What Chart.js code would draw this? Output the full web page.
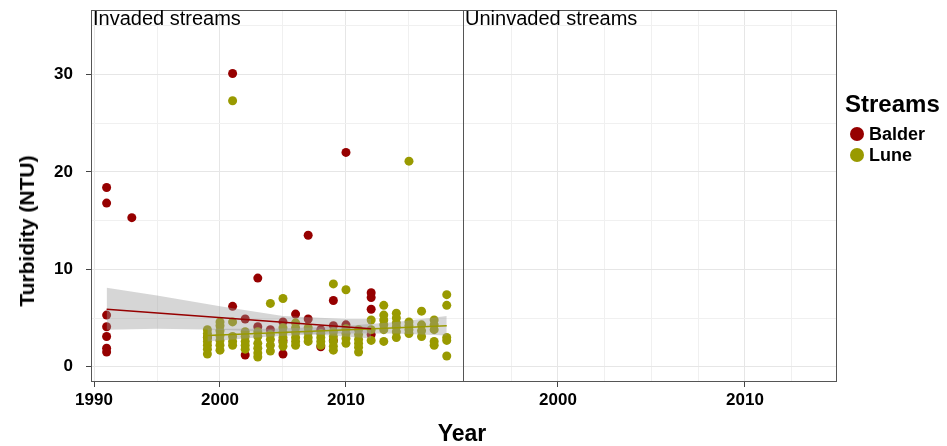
<!DOCTYPE html>
<html>
<head>
<meta charset="utf-8">
<script src="https://cdn.jsdelivr.net/npm/chart.js@4"></script>
<style>
  body { margin: 0; background: #fff; }
  #wrap { position: relative; width: 947px; height: 446px; font-family: "Liberation Sans", Arial, sans-serif; }
  #wrap canvas { position: absolute; left: 0; top: 0; }
  .lbl { position: absolute; white-space: nowrap; color: #000; }
  .strip { font-size: 20px; line-height: 20px; top: 8px; }
  .dot { display: inline-block; width: 14px; height: 14px; border-radius: 50%; margin-right: 5px; }
  .item { position: absolute; left: 850px; height: 16px; display: flex; align-items: center; font-weight: bold; font-size: 18px; line-height: 16px; }
</style>
</head>
<body>
<div id="wrap">
  <canvas id="leftChart" width="947" height="446"></canvas>
  <canvas id="rightChart" width="947" height="446"></canvas>
  <div class="lbl strip" style="left:93px">Invaded streams</div>
  <div class="lbl strip" style="left:465px">Uninvaded streams</div>
  <div class="lbl" style="left:27px; top:231px; transform:translate(-50%,-50%) rotate(-90deg); font-weight:bold; font-size:21px;">Turbidity (NTU)</div>
  <div class="lbl" style="left:462px; top:433px; transform:translate(-50%,-50%); font-weight:bold; font-size:23px;">Year</div>
  <div class="lbl" style="left:845px; top:92px; font-weight:bold; font-size:24px; line-height:24px;">Streams</div>
  <div class="item" style="top:126px"><span class="dot" style="background:#960000"></span>Balder</div>
  <div class="item" style="top:147px"><span class="dot" style="background:#999a00"></span>Lune</div>
</div>
<script>
// turbidity readings per year (Invaded streams panel)
const balderYears = [1991, 1993, 1999, 2001, 2002, 2003, 2004, 2005, 2006, 2007, 2008, 2009, 2010, 2012];
const balderTurbidity = [
    [18.4, 16.8, 5.3, 4.1, 3.1, 1.9, 1.5], [15.3], [3.0], [30.1, 6.2], [4.9, 1.2], [9.1, 4.1], [3.8],
    [4.6, 2.7, 1.3], [5.4], [13.5, 4.9], [3.8, 2.05], [6.8, 4.2, 2.7], [22.0, 4.3], [7.6, 7.1, 5.9, 3.3]
];
const luneYears = [1999, 2000, 2001, 2002, 2003, 2004, 2005, 2006, 2007, 2008,
                   2009, 2010, 2011, 2012, 2013, 2014, 2015, 2016, 2017, 2018];
const luneTurbidity = [
    [3.8, 3.4, 3.0, 2.6, 2.2, 1.8, 1.3],
    [4.6, 4.2, 3.7, 3.2, 2.7, 2.2, 1.7],
    [27.3, 4.6, 3.1, 2.6, 2.2],
    [3.6, 3.1, 2.6, 2.2, 1.8],
    [3.6, 3.1, 2.4, 1.9, 1.4, 1.0],
    [6.5, 3.3, 2.8, 2.2, 1.6],
    [7.0, 4.0, 3.5, 3.0, 2.5, 2.1],
    [4.5, 4.0, 3.5, 3.0, 2.6, 2.2],
    [4.0, 3.5, 3.0, 2.6],
    [3.4, 3.0, 2.6, 2.2],
    [8.5, 3.6, 3.1, 2.6, 2.1, 1.7],
    [7.9, 3.9, 3.4, 2.9, 2.4],
    [3.8, 3.3, 2.8, 2.4, 2.0, 1.5],
    [4.8, 3.8, 2.7],
    [6.3, 5.3, 4.8, 4.3, 3.8, 2.6],
    [5.5, 5.0, 4.5, 4.1, 3.6, 3.0],
    [21.1, 4.6, 4.2, 3.8, 3.4],
    [5.7, 4.3, 3.7, 3.1],
    [4.8, 4.3, 3.8, 2.6, 2.2],
    [7.4, 6.3, 3.0, 2.7, 1.1]
];

// linear fits and their confidence bands
const balderFitYears = [1991, 2012];
const balderFit = [5.9, 3.9];
const balderBandYears = [1991, 1995, 2000, 2005, 2010, 2012];
const balderBandLow = [3.8, 3.9, 3.8, 3.5, 3.1, 2.9];
const balderBandHigh = [8.1, 7.3, 6.2, 5.2, 4.9, 4.9];
const luneFitYears = [1999, 2018];
const luneFit = [3.2, 4.2];
const luneBandYears = [1999, 2004, 2009, 2014, 2018];
const luneBandLow = [2.6, 3.1, 3.4, 3.4, 3.2];
const luneBandHigh = [3.9, 3.9, 4.1, 4.6, 5.2];

// axes
const yGrid = [0, 5, 10, 15, 20, 25, 30, 35];
const yLabels = [0, 10, 20, 30];
const leftXGrid = [1990, 1995, 2000, 2005, 2010, 2015];
const leftXLabels = [1990, 2000, 2010];
const rightXGrid = [1997.5, 2000, 2002.5, 2005, 2007.5, 2010, 2012.5];
const rightXLabels = [2000, 2010];

const FONT = '"Liberation Sans", Arial, sans-serif';
const BALDER = '#960000';
const LUNE = '#999a00';
const BAND = 'rgba(153,153,153,0.4)';

function toPoints(years, values) {
    const pts = [];
    years.forEach((yr, i) => {
        const vals = Array.isArray(values[i]) ? values[i] : [values[i]];
        vals.forEach(v => pts.push({ x: yr, y: v }));
    });
    return pts;
}

// grey box round each panel (shared edge falls on the same pixel)
const panelFrame = {
    id: 'panelFrame',
    afterDraw(chart) {
        const a = chart.chartArea;
        const ctx = chart.ctx;
        ctx.save();
        ctx.strokeStyle = '#555';
        ctx.lineWidth = 1;
        ctx.strokeRect(Math.round(a.left) + 0.5, Math.round(a.top) + 0.5,
            Math.round(a.right - a.left), Math.round(a.bottom - a.top) - 1);
        ctx.restore();
    }
};

function xScale(min, max, grid, labels) {
    return {
        type: 'linear', min: min, max: max,
        afterBuildTicks: s => { s.ticks = grid.map(v => ({ value: v })); },
        afterFit: s => { s.height = 64; s.paddingLeft = 0; s.paddingRight = 0; },
        border: { display: false },
        grid: {
            color: c => labels.includes(c.tick.value) ? '#e6e6e6' : '#f0f0f0',
            tickLength: 5,
            tickColor: c => labels.includes(c.tick.value) ? '#444' : 'rgba(0,0,0,0)'
        },
        ticks: {
            autoSkip: false, maxRotation: 0, padding: 3, color: '#000',
            font: { family: FONT, size: 17, weight: 'bold' },
            callback: v => labels.includes(v) ? String(v) : ''
        }
    };
}

function yScale(showLabels) {
    return {
        type: 'linear', min: -1.57, max: 36.62,
        afterBuildTicks: s => { s.ticks = yGrid.map(v => ({ value: v })); },
        afterFit: s => { s.width = showLabels ? 91 : 0; s.paddingTop = 0; s.paddingBottom = 0; },
        border: { display: false },
        grid: {
            color: c => yLabels.includes(c.tick.value) ? '#e6e6e6' : '#f0f0f0',
            drawTicks: showLabels,
            tickLength: 5,
            tickColor: c => yLabels.includes(c.tick.value) ? '#444' : 'rgba(0,0,0,0)'
        },
        ticks: {
            display: showLabels, autoSkip: false, padding: 13, color: '#000',
            font: { family: FONT, size: 17, weight: 'bold' },
            callback: v => yLabels.includes(v) ? String(v) : ''
        }
    };
}

const common = {
    responsive: false,
    animation: false,
    events: [],
    plugins: { legend: { display: false }, tooltip: { enabled: false } }
};

new Chart(document.getElementById('leftChart'), {
    type: 'scatter',
    data: {
        datasets: [
            { data: toPoints(balderFitYears, balderFit), showLine: true, borderColor: BALDER, borderWidth: 1.5, pointRadius: 0, order: 1 },
            { data: toPoints(luneFitYears, luneFit), showLine: true, borderColor: LUNE, borderWidth: 1.5, pointRadius: 0, order: 1 },
            { data: toPoints(balderBandYears, balderBandLow), showLine: true, borderWidth: 0, pointRadius: 0, order: 2 },
            { data: toPoints(balderBandYears, balderBandHigh), showLine: true, borderWidth: 0, pointRadius: 0, fill: 2, backgroundColor: BAND, order: 2 },
            { data: toPoints(luneBandYears, luneBandLow), showLine: true, borderWidth: 0, pointRadius: 0, order: 2 },
            { data: toPoints(luneBandYears, luneBandHigh), showLine: true, borderWidth: 0, pointRadius: 0, fill: 4, backgroundColor: BAND, order: 2 },
            { label: 'Lune', data: toPoints(luneYears, luneTurbidity), backgroundColor: LUNE, borderWidth: 0, pointRadius: 4.5, order: 3 },
            { label: 'Balder', data: toPoints(balderYears, balderTurbidity), backgroundColor: BALDER, borderWidth: 0, pointRadius: 4.5, order: 4 }
        ]
    },
    options: Object.assign({}, common, {
        layout: { padding: { top: 10, right: 947 - 463, left: 0, bottom: 0 } },
        scales: { x: xScale(1989.76, 2019.29, leftXGrid, leftXLabels), y: yScale(true) }
    }),
    plugins: [panelFrame]
});

new Chart(document.getElementById('rightChart'), {
    type: 'scatter',
    data: { datasets: [] },
    options: Object.assign({}, common, {
        layout: { padding: { top: 10, right: 947 - 836, left: 463, bottom: 0 } },
        scales: { x: xScale(1994.92, 2014.87, rightXGrid, rightXLabels), y: yScale(false) }
    }),
    plugins: [panelFrame]
});
</script>
</body>
</html>
